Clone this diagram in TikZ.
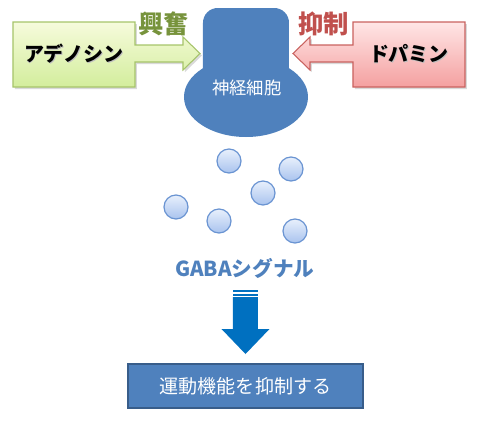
\documentclass[tikz,border=0pt]{standalone}
\usepackage{fontspec}
\newfontfamily\jp{Noto Sans CJK JP}
\definecolor{nblue}{HTML}{4F81BD}
\definecolor{nblueD}{HTML}{385D8A}
\definecolor{arrblue}{HTML}{0070C0}
\definecolor{olive}{HTML}{77933C}
\definecolor{redt}{HTML}{C0504D}
\definecolor{gtop}{HTML}{F6FBDC}
\definecolor{gbot}{HTML}{D3ED9C}
\definecolor{gline}{HTML}{A6C46A}
\definecolor{ptop}{HTML}{FFE6E6}
\definecolor{pbot}{HTML}{F4A0A0}
\definecolor{pline}{HTML}{C9625F}
\definecolor{btop}{HTML}{E8F0FC}
\definecolor{bbot}{HTML}{A9C3EE}
\definecolor{bline}{HTML}{6A94D2}
\tikzset{
  bubble/.style={circle, minimum size=18pt, inner sep=0pt, top color=btop, bottom color=bbot, draw=bline, line width=0.9pt},
  boxshadow/.style={fill=black, opacity=0.15},
  jpbold/.style={font=\jp\bfseries\fontsize{15}{18}\selectfont},
  labeltext/.style={font=\jp\bfseries\fontsize{19}{22}\selectfont},
}
\begin{document}
\begin{tikzpicture}[x=0.75pt,y=-0.75pt]
\useasboundingbox (0,0) rectangle (480,422);
% green arrow box shadow
\fill[boxshadow] (15,24) -- (137,24) -- (137,47) -- (185,47) -- (185,39) -- (202,55.5) -- (185,72) -- (185,64) -- (137,64) -- (137,89) -- (15,89) -- cycle;
\path[draw=gline, line width=0.8pt, top color=gtop, bottom color=gbot]
  (13,22) -- (135,22) -- (135,45) -- (183,45) -- (183,37) -- (200,53.5) -- (183,70) -- (183,62) -- (135,62) -- (135,87) -- (13,87) -- cycle;
% pink arrow box shadow
\fill[boxshadow] (467,24) -- (355,24) -- (355,47) -- (312,47) -- (312,39) -- (295,55.5) -- (312,72) -- (312,64) -- (355,64) -- (355,89) -- (467,89) -- cycle;
\path[draw=pline, line width=0.8pt, top color=ptop, bottom color=pbot]
  (465,22) -- (353,22) -- (353,45) -- (310,45) -- (310,37) -- (293,53.5) -- (310,70) -- (310,62) -- (353,62) -- (353,87) -- (465,87) -- cycle;
% texts in boxes
\node[jpbold, text=black!25] at (75,55) {アデノシン};
\node[jpbold] (adenosine) at (74,54) {アデノシン};
\node[jpbold, text=black!25] at (410,55) {ドパミン};
\node[jpbold] (dopamine) at (409,54) {ドパミン};
% labels
\node[labeltext, text=olive] (excite) at (164,24) {興奮};
\node[labeltext, text=redt] (inhibit) at (324,24) {抑制};
% neuron
\fill[nblue, rounded corners=11pt] (203,100) rectangle (289,8);
\fill[nblue] (246,97) ellipse [x radius=46.5pt, y radius=30pt];
\node[font=\jp\fontsize{13}{15}\selectfont, text=white] (neuron) at (247,88) {神経細胞};
% bubbles
\node[bubble] (b1) at (229,161) {};
\node[bubble] (b2) at (291,169) {};
\node[bubble] (b3) at (263,193) {};
\node[bubble] (b4) at (176,207) {};
\node[bubble] (b5) at (219,221) {};
\node[bubble] (b6) at (295,231) {};
% GABA
\node[font=\jp\bfseries\fontsize{15.5}{18}\selectfont, text=nblue] (gaba) at (245,268) {GABAシグナル};
% down arrow
\fill[arrblue] (233,290) rectangle (258,292);
\fill[arrblue] (233,293.5) rectangle (258,295.5);
\fill[arrblue] (233,297) -- (258,297) -- (258,329) -- (269.5,329) -- (245.5,354) -- (221.5,329) -- (233,329) -- cycle;
% result box
\draw[fill=nblue, draw=nblueD, line width=1pt] (128,364) rectangle (363,408);
\node[font=\jp\fontsize{14.3}{17}\selectfont, text=white] (result) at (245.5,386) {運動機能を抑制する};
\end{tikzpicture}
\end{document}
